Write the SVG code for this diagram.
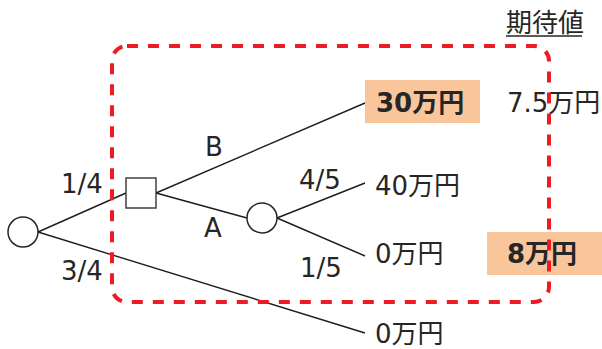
<svg xmlns="http://www.w3.org/2000/svg" width="602" height="349" viewBox="0 0 602 349">
<style>
.t{font-family:"DejaVu Sans","Noto Sans CJK JP",sans-serif;font-size:26px;fill:#262626}
.b{font-weight:bold}
.e{stroke:#1e1e1e;stroke-width:1.4;fill:none}
.n{fill:#fff;stroke:#262626;stroke-width:1.5}
.hl{fill:#F9C59B}
</style>
<rect width="602" height="349" fill="#fff"/>
<g id="connectors">
<line class="e" x1="38" y1="232" x2="126" y2="193"/>
<line class="e" x1="38" y1="232" x2="365" y2="333"/>
<line class="e" x1="156" y1="193" x2="365" y2="103"/>
<line class="e" x1="156" y1="193" x2="247" y2="218"/>
<line class="e" x1="277" y1="218" x2="365" y2="183"/>
<line class="e" x1="277" y1="218" x2="365" y2="256"/>
</g>
<g id="root"><circle class="n" cx="23" cy="232" r="15"/></g>
<g id="decision"><rect class="n" x="126" y="178" width="30" height="30" style="stroke:#404040"/></g>
<g id="chance"><circle class="n" cx="262" cy="218" r="15"/></g>
<g id="labels">
<text class="t" x="61" y="193">1/4</text>
<text class="t" x="61" y="280">3/4</text>
<text class="t" x="205" y="156">B</text>
<text class="t" x="204" y="237">A</text>
<text class="t" x="299" y="189">4/5</text>
<text class="t" x="300" y="277">1/5</text>
</g>
<g id="outcome-B"><rect class="hl" x="365" y="80" width="115" height="43"/><text class="t b" x="376" y="112">30万円</text></g>
<g id="outcome-A1"><text class="t" x="375" y="195">40万円</text></g>
<g id="outcome-A2"><text class="t" x="375" y="263">0万円</text></g>
<g id="outcome-no"><text class="t" x="375" y="343">0万円</text></g>
<g id="ev-header"><text class="t" x="506" y="32">期待値</text><line x1="506" y1="36" x2="582" y2="36" stroke="#262626" stroke-width="1.5"/></g>
<g id="ev-B"><text class="t" x="507" y="112">7.5万円</text></g>
<g id="ev-total"><rect class="hl" x="487" y="232" width="115" height="43"/><text class="t b" x="507" y="263">8万円</text></g>
<g id="subtree-box"><rect x="112" y="46" width="437" height="256" rx="15" ry="15" fill="none" stroke="#ED1C24" stroke-width="4" stroke-dasharray="11 10"/></g>
</svg>
